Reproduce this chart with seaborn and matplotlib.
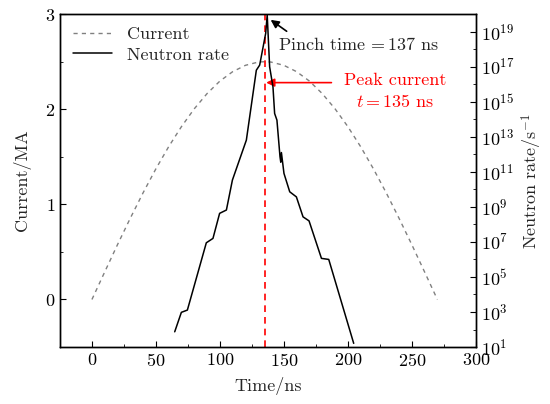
import numpy as np
import pandas as pd
import matplotlib
matplotlib.use("Agg")
import matplotlib.pyplot as plt
from matplotlib.ticker import LogLocator, MultipleLocator, FixedLocator, NullFormatter
import seaborn as sns

# current waveform (MA) vs time (ns)
current_t = [0, 10, 20, 30, 40, 50, 60, 70, 80, 90, 100, 110, 120, 130, 135,
             140, 150, 160, 170, 180, 190, 200, 210, 220, 230, 240, 250, 260, 270]
current_ma = [0.0, 0.290, 0.577, 0.855, 1.122, 1.374, 1.607, 1.818, 2.005, 2.165,
              2.296, 2.395, 2.462, 2.496, 2.5, 2.496, 2.462, 2.395, 2.296, 2.165,
              2.005, 1.818, 1.607, 1.374, 1.122, 0.855, 0.577, 0.290, 0.0]

# neutron rate (log10 of s^-1) vs time (ns)
neutron_t = [64.7, 69.9, 74.6, 89.4, 94.6, 99.8, 105.1, 109.8, 120.7, 128.5, 131.1,
             135.8, 137.0, 138.9, 141.5, 142.8, 144.6, 147.0, 147.6, 148.1, 150.1,
             154.6, 159.8, 165.0, 169.7, 179.4, 185.1, 204.6]
neutron_log = [1.87, 2.98, 3.11, 6.95, 7.20, 8.63, 8.82, 10.53, 12.81, 16.80, 17.09,
               18.90, 19.95, 16.99, 15.85, 14.33, 13.95, 11.86, 11.55, 12.1, 10.91,
               9.86, 9.57, 8.43, 8.20, 6.06, 6.00, 1.21]

pinch_time = 137
peak_time = 135

df_cur = pd.DataFrame({"t": current_t, "I": current_ma})
df_neu = pd.DataFrame({"t": neutron_t, "rate": [10.0 ** v for v in neutron_log]})

sns.set_style("ticks")
plt.rcParams["font.family"] = ["cmr10"]
plt.rcParams["mathtext.fontset"] = "cm"
plt.rcParams["axes.unicode_minus"] = False
plt.rcParams["axes.formatter.use_mathtext"] = True
plt.rcParams["font.size"] = 13

fig = plt.figure(figsize=(5.5, 4.04), dpi=100)
ax = fig.add_axes([0.109, 0.141, 0.756, 0.824])
ax2 = ax.twinx()

sns.lineplot(data=df_cur, x="t", y="I", ax=ax, color="#808080", linestyle=(0, (3, 3)),
             linewidth=1.0, label="Current", legend=False)
sns.lineplot(data=df_neu, x="t", y="rate", ax=ax2, color="black", linewidth=1.1,
             label="Neutron rate", legend=False)

ax.set_xlim(-25, 300)
ax.set_ylim(-0.5, 3)
ax2.set_yscale("log")
ax2.set_ylim(1e1, 1e20)

ax.xaxis.set_major_locator(MultipleLocator(50))
ax.xaxis.set_minor_locator(MultipleLocator(25))
ax.yaxis.set_major_locator(MultipleLocator(1))
ax.yaxis.set_minor_locator(MultipleLocator(0.5))
ax2.yaxis.set_major_locator(FixedLocator([10.0 ** k for k in range(1, 20, 2)]))
ax2.yaxis.set_minor_locator(LogLocator(base=10, subs="all", numticks=200))
ax2.yaxis.set_minor_formatter(NullFormatter())

for a in (ax, ax2):
    a.tick_params(which="both", direction="in", labelsize=13, colors="black")
    a.tick_params(which="major", length=4, width=0.8)
    a.tick_params(which="minor", length=2.5, width=0.6)
    for s in a.spines.values():
        s.set_linewidth(1.0)
        s.set_color("black")

ax.set_xlabel("Time/ns", fontsize=13, labelpad=6)
ax.set_ylabel("Current/MA", fontsize=13, labelpad=10)
ax2.set_ylabel("Neutron rate/s$^{-1}$", fontsize=13, labelpad=4)

ax.axvline(peak_time, color="red", linestyle=(0, (4, 3)), linewidth=1.2)

# pinch time arrow + label
ax.annotate("", xy=(139.7, 2.94), xytext=(152.2, 2.82),
            arrowprops=dict(arrowstyle="-|>", color="black", lw=1.2, shrinkA=0, shrinkB=0,
                            mutation_scale=12))
ax.text(145.2, 2.68, "Pinch time$\\,=137$ ns", fontsize=13, ha="left", va="center")

# peak current arrow + label
ax.annotate("", xy=(peak_time + 1.2, 2.28), xytext=(187.2, 2.28),
            arrowprops=dict(arrowstyle="-|>", color="red", lw=1.2, shrinkA=0, shrinkB=0,
                            mutation_scale=12))
ax.text(237, 2.30, "Peak current", color="red", fontsize=13, ha="center", va="center")
ax.text(237, 2.08, "$t=135$ ns", color="red", fontsize=13, ha="center", va="center")

h1, l1 = ax.get_legend_handles_labels()
h2, l2 = ax2.get_legend_handles_labels()
ax2.legend(h1 + h2, l1 + l2, loc="upper left", frameon=False, fontsize=13,
           handlelength=2.2, borderaxespad=0.3, labelspacing=0.25)

fig.savefig("out.png", dpi=100)
